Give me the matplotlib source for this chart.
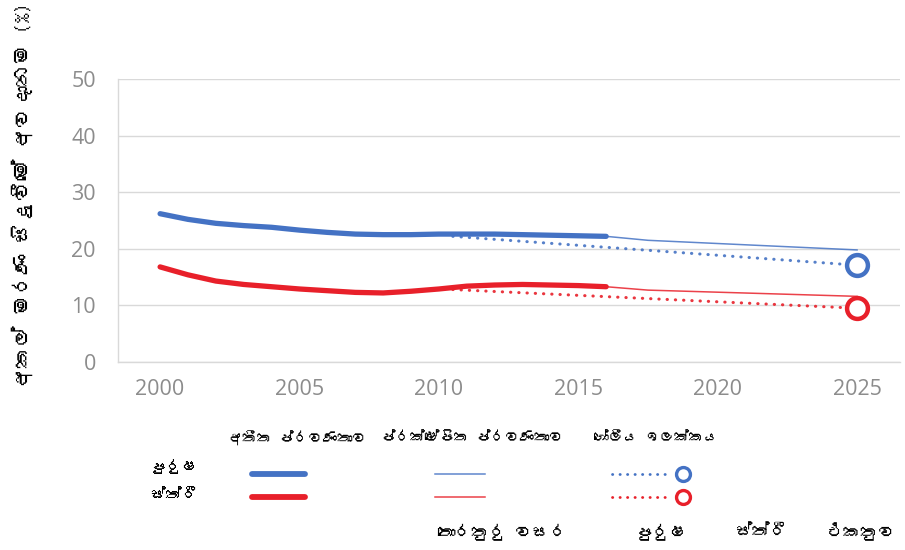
import matplotlib
matplotlib.use("Agg")
import matplotlib.pyplot as plt
from matplotlib import font_manager
from matplotlib.ft2font import FT2Font
from matplotlib.lines import Line2D

# past trend (thick), 2000-2016
past_years = [2000, 2001, 2002, 2003, 2004, 2005, 2006, 2007, 2008,
              2009, 2010, 2011, 2012, 2013, 2014, 2015, 2016]
past_male = [26.2, 25.2, 24.5, 24.1, 23.8, 23.3, 22.9, 22.6, 22.5,
             22.5, 22.6, 22.6, 22.6, 22.5, 22.4, 22.3, 22.2]
past_female = [16.8, 15.4, 14.3, 13.7, 13.3, 12.9, 12.6, 12.3, 12.2,
               12.5, 12.9, 13.4, 13.6, 13.7, 13.6, 13.5, 13.3]

# projected trend (thin)
proj_years = [2016, 2017.5, 2025]
proj_male = [22.2, 21.5, 19.8]
proj_female = [13.3, 12.7, 11.6]

# global target (dotted + circle)
goal_years = [2010.5, 2025]
goal_male = [22.2, 17.1]
goal_female = [12.8, 9.5]

x_ticks = [2000, 2005, 2010, 2015, 2020, 2025]
y_ticks = [0, 10, 20, 30, 40, 50]

# no zero-width joiners: matplotlib cannot shape conjuncts and draws them as boxes
ylabel = "අකල් මරණ සිදුවීමේ අවදානම (%)"
col_headers = ["අතීත ප්රවණතාව", "ප්රක්ෂේපිත ප්රවණතාව", "ගෝලීය ඉලක්කය"]
row_labels = ["පුරුෂ", "ස්ත්රී"]
bottom_labels = ["තොරතුරු වසර", "පුරුෂ", "ස්ත්රී", "එකතුව"]

BLUE = "#4472c4"
RED = "#e8202a"
GRID = "#d9d9d9"
TICK = "#8c8c8c"


def find_sinhala_fonts():
    found = []
    for f in font_manager.fontManager.ttflist:
        try:
            ft = FT2Font(f.fname)
            if ft.get_char_index(0x0D85) and f.name not in found:
                found.append(f.name)
        except Exception:
            pass
    return found


SI_FAMILY = find_sinhala_fonts() + ["DejaVu Sans"]

plt.rcParams["font.family"] = ["Open Sans", "DejaVu Sans"]

fig = plt.figure(figsize=(9.05, 5.5), dpi=100)
ax = fig.add_axes([118 / 905, 1 - 362 / 550, 782 / 905, 283 / 550])

ax.plot(past_years, past_male, color=BLUE, lw=3.8, solid_capstyle="round", zorder=3)
ax.plot(past_years, past_female, color=RED, lw=3.8, solid_capstyle="round", zorder=3)
ax.plot(proj_years, proj_male, color=BLUE, lw=1.1, alpha=0.85)
ax.plot(proj_years, proj_female, color=RED, lw=1.1, alpha=0.85)
for vals, c in [(goal_male, BLUE), (goal_female, RED)]:
    ax.plot(goal_years, vals, color=c, lw=2.2, linestyle=(0, (0.1, 2.6)),
            dash_capstyle="round", alpha=0.9)
    ax.plot(goal_years[-1:], vals[-1:], marker="o", ms=15, mew=3.2,
            mfc="white", mec=c, lw=0, zorder=4)

ax.set_xlim(1998.49, 2026.54)
ax.set_ylim(0, 50)
ax.set_xticks(x_ticks)
ax.set_yticks(y_ticks)
ax.tick_params(length=0, colors=TICK, labelsize=15.5)
ax.tick_params(axis="y", pad=16)
ax.tick_params(axis="x", pad=12)
ax.grid(axis="y", color=GRID, lw=1)
ax.set_axisbelow(True)
for s in ["top", "right"]:
    ax.spines[s].set_visible(False)
for s in ["left", "bottom"]:
    ax.spines[s].set_color(GRID)
    ax.spines[s].set_linewidth(1)

fig.text(22 / 905, 1 - 195 / 550, ylabel, rotation=90, ha="center",
         va="center", fontsize=15, family=SI_FAMILY)

# legend built in pixel coordinates
lg = fig.add_axes([0, 0, 1, 1])
lg.set_xlim(0, 905)
lg.set_ylim(550, 0)
lg.axis("off")

for label, x in zip(col_headers, [297, 472, 656]):
    lg.text(x, 438, label, ha="center", va="center", fontsize=10.5, family=SI_FAMILY)
for label, y in zip(row_labels, [467, 496]):
    lg.text(150, y, label, ha="left", va="center", fontsize=11.5, family=SI_FAMILY)
for label, x in zip(bottom_labels, [502, 662, 762, 862]):
    lg.text(x, 532, label, ha="center", va="center", fontsize=12.5, family=SI_FAMILY)

for y, c in [(474, BLUE), (497, RED)]:
    lg.add_line(Line2D([252, 305], [y, y], color=c, lw=4.2, solid_capstyle="round"))
    lg.add_line(Line2D([435, 485], [y, y], color=c, lw=1.1, alpha=0.85))
    lg.add_line(Line2D([612, 672], [y, y], color=c, lw=2.0,
                       linestyle=(0, (0.1, 2.6)), dash_capstyle="round"))
    lg.plot([683], [y], marker="o", ms=10, mew=2.4, mfc="white", mec=c, lw=0)

fig.savefig("out.png", dpi=100)
